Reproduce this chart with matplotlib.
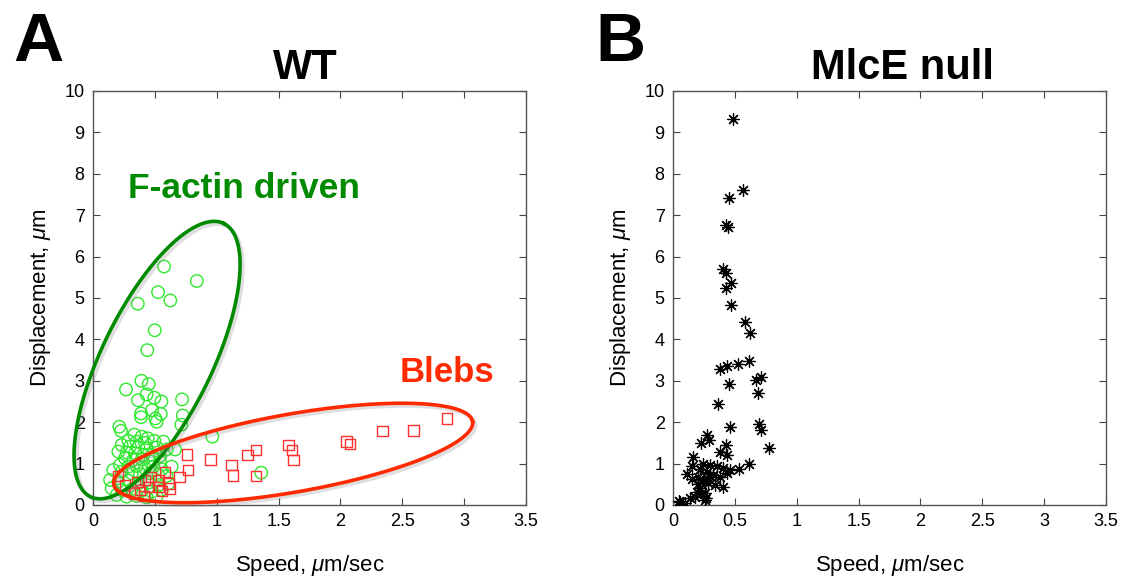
import numpy as np
import matplotlib
matplotlib.use("Agg")
import matplotlib.pyplot as plt
import matplotlib.patheffects as pe

plt.rcParams["font.family"] = ["Liberation Sans", "DejaVu Sans"]
plt.rcParams["mathtext.fontset"] = "custom"
plt.rcParams["mathtext.it"] = "Liberation Sans:italic"

# ── WT: F-actin driven protrusions (green circles) ──────────────────
wt_actin_speed = [
    0.574, 0.839, 0.526, 0.625, 0.362, 0.499, 0.439, 0.267, 0.391, 0.451,
    0.364, 0.434, 0.496, 0.553, 0.720, 0.477, 0.548, 0.388, 0.388, 0.504,
    0.515, 0.726, 0.714, 0.213, 0.227, 0.965, 1.36,
    0.334, 0.394, 0.442, 0.286, 0.353, 0.421, 0.496, 0.569, 0.232, 0.299,
    0.367, 0.434, 0.515, 0.596, 0.663, 0.205, 0.272, 0.340, 0.407, 0.475,
    0.542, 0.259, 0.326, 0.394, 0.461, 0.542, 0.218, 0.286, 0.353, 0.421,
    0.488, 0.556, 0.636, 0.164, 0.232, 0.313, 0.380, 0.461, 0.529, 0.596,
    0.138, 0.205, 0.286, 0.367, 0.448, 0.529, 0.610, 0.151, 0.232, 0.313,
    0.394, 0.475, 0.556, 0.191, 0.272, 0.353, 0.434, 0.515,
]
wt_actin_disp = [
    5.76, 5.41, 5.14, 4.94, 4.86, 4.22, 3.74, 2.79, 3.00, 2.92,
    2.53, 2.67, 2.59, 2.50, 2.55, 2.29, 2.20, 2.21, 2.12, 2.09,
    2.01, 2.16, 1.94, 1.89, 1.79, 1.65, 0.78,
    1.70, 1.65, 1.61, 1.55, 1.53, 1.50, 1.55, 1.53, 1.45, 1.41,
    1.39, 1.37, 1.39, 1.34, 1.34, 1.29, 1.27, 1.25, 1.21, 1.21,
    1.18, 1.13, 1.09, 1.10, 1.05, 1.05, 0.966, 0.926, 0.942, 0.886,
    0.926, 0.862, 0.926, 0.845, 0.805, 0.765, 0.749, 0.765, 0.725, 0.700,
    0.604, 0.564, 0.588, 0.523, 0.540, 0.483, 0.523, 0.403, 0.362, 0.379,
    0.346, 0.322, 0.362, 0.242, 0.201, 0.217, 0.185, 0.217,
]

# ── WT: blebs (red squares) ─────────────────────────────────────────
wt_bleb_speed = [
    2.86, 2.59, 2.34, 2.05, 2.08, 1.58, 1.61, 1.62, 1.32, 1.25,
    1.12, 1.13, 1.32, 0.95, 0.76, 0.77, 0.70, 0.58, 0.53, 0.61,
    0.47, 0.42, 0.45, 0.53, 0.38, 0.33, 0.41, 0.26, 0.20, 0.62,
    0.56, 0.36,
]
wt_bleb_disp = [
    2.09, 1.80, 1.79, 1.53, 1.47, 1.45, 1.33, 1.09, 1.32, 1.21,
    0.97, 0.71, 0.70, 1.10, 1.22, 0.85, 0.68, 0.80, 0.60, 0.52,
    0.68, 0.60, 0.44, 0.43, 0.36, 0.28, 0.22, 0.48, 0.70, 0.40,
    0.33, 0.55,
]

# ── MlcE null (black asterisks) ─────────────────────────────────────
mlce_speed = [
    0.483, 0.566, 0.456, 0.429, 0.442, 0.407, 0.426, 0.467, 0.431, 0.467,
    0.583, 0.623, 0.380, 0.437, 0.523, 0.618, 0.453, 0.669, 0.712, 0.690,
    0.364, 0.464, 0.698, 0.709, 0.774, 0.272, 0.294, 0.224, 0.426, 0.380,
    0.439, 0.164, 0.617, 0.530, 0.151, 0.110, 0.050, 0.267,
    0.245, 0.299, 0.353, 0.407, 0.461, 0.434, 0.380, 0.326, 0.272, 0.205,
    0.232, 0.286, 0.340, 0.407, 0.218, 0.191, 0.259, 0.178, 0.138, 0.259,
    0.057, 0.097, 0.151, 0.218, 0.245, 0.205, 0.299, 0.232,
]
mlce_disp = [
    9.32, 7.60, 7.42, 6.76, 6.72, 5.70, 5.60, 5.37, 5.23, 4.84,
    4.43, 4.16, 3.28, 3.36, 3.41, 3.47, 2.93, 3.02, 3.10, 2.71,
    2.43, 1.88, 1.96, 1.81, 1.37, 1.68, 1.57, 1.49, 1.44, 1.27,
    1.20, 1.15, 0.99, 0.87, 0.94, 0.75, 0.10, 0.16,
    0.99, 0.965, 0.94, 0.89, 0.845, 0.765, 0.68, 0.72, 0.80, 0.68,
    0.56, 0.52, 0.48, 0.44, 0.40, 0.32, 0.28, 0.20, 0.16, 0.12,
    0.08, 0.04, 0.62, 0.88, 0.60, 0.50, 0.70, 0.30,
]

x_ticks = [0, 0.5, 1, 1.5, 2, 2.5, 3, 3.5]
x_ticklabels = ["0", "0.5", "1", "1.5", "2", "2.5", "3", "3.5"]
y_ticks = list(range(0, 11))


def style_axes(ax):
    ax.set_xlim(0, 3.5)
    ax.set_ylim(0, 10)
    ax.set_xticks(x_ticks)
    ax.set_xticklabels(x_ticklabels)
    ax.set_yticks(y_ticks)
    ax.tick_params(direction="in", top=True, right=True, length=5,
                   width=0.8, labelsize=13, color="#444444", pad=6)
    for sp in ax.spines.values():
        sp.set_color("#555555")
        sp.set_linewidth(1.0)
    ax.set_xlabel("Speed, $\\mathit{\\mu}$m/sec", fontsize=16, labelpad=16)
    ax.set_ylabel("Displacement, $\\mathit{\\mu}$m", fontsize=16, labelpad=8)


def draw_ellipse(ax, center, major, minor, color):
    t = np.linspace(0, 2 * np.pi, 400)
    xs = center[0] + np.cos(t) * major[0] + np.sin(t) * minor[0]
    ys = center[1] + np.cos(t) * major[1] + np.sin(t) * minor[1]
    ax.plot(xs, ys, color=color, lw=2.6, clip_on=False, zorder=4,
            path_effects=[pe.SimpleLineShadow(offset=(2, -2), alpha=0.25,
                                              shadow_color="gray"),
                          pe.Normal()])


fig = plt.figure(figsize=(11.23, 5.76), dpi=100)
ax_a = fig.add_axes([0.0828, 0.1233, 0.3856, 0.7188])
ax_b = fig.add_axes([0.5993, 0.1233, 0.3856, 0.7188])

# ── Panel A ──────────────────────────────────────────────────────────
ax_a.scatter(wt_actin_speed, wt_actin_disp, s=80, facecolors="none",
             edgecolors="#2ee82e", linewidths=1.0, zorder=3)
ax_a.scatter(wt_bleb_speed, wt_bleb_disp, s=55, marker="s",
             facecolors="none", edgecolors="#ff3030", linewidths=1.0,
             zorder=3)
draw_ellipse(ax_a, (0.518, 3.50), (0.539, 3.30), (-0.400, 0.582), "#008a00")
draw_ellipse(ax_a, (1.618, 1.256), (1.450, 0.763), (-0.0548, 0.928), "#ff2a00")
ax_a.text(0.283, 7.42, "F-actin driven", color="#008a00", fontsize=25.5,
          fontweight="bold")
ax_a.text(2.48, 2.97, "Blebs", color="#ff2a00", fontsize=25,
          fontweight="bold")
style_axes(ax_a)

# ── Panel B ──────────────────────────────────────────────────────────
ax_b.scatter(mlce_speed, mlce_disp, s=70, marker=(8, 2, 0), color="black",
             linewidths=0.9, zorder=3)
style_axes(ax_b)

fig.text(0.272, 0.882, "WT", fontsize=30, fontweight="bold",
         ha="center", va="center")
fig.text(0.804, 0.882, "MlcE null", fontsize=30, fontweight="bold",
         ha="center", va="center")
fig.text(0.012, 0.925, "A", fontsize=50, fontweight="bold",
         ha="left", va="center")
fig.text(0.530, 0.925, "B", fontsize=50, fontweight="bold",
         ha="left", va="center")

fig.savefig("out.png", dpi=100)
